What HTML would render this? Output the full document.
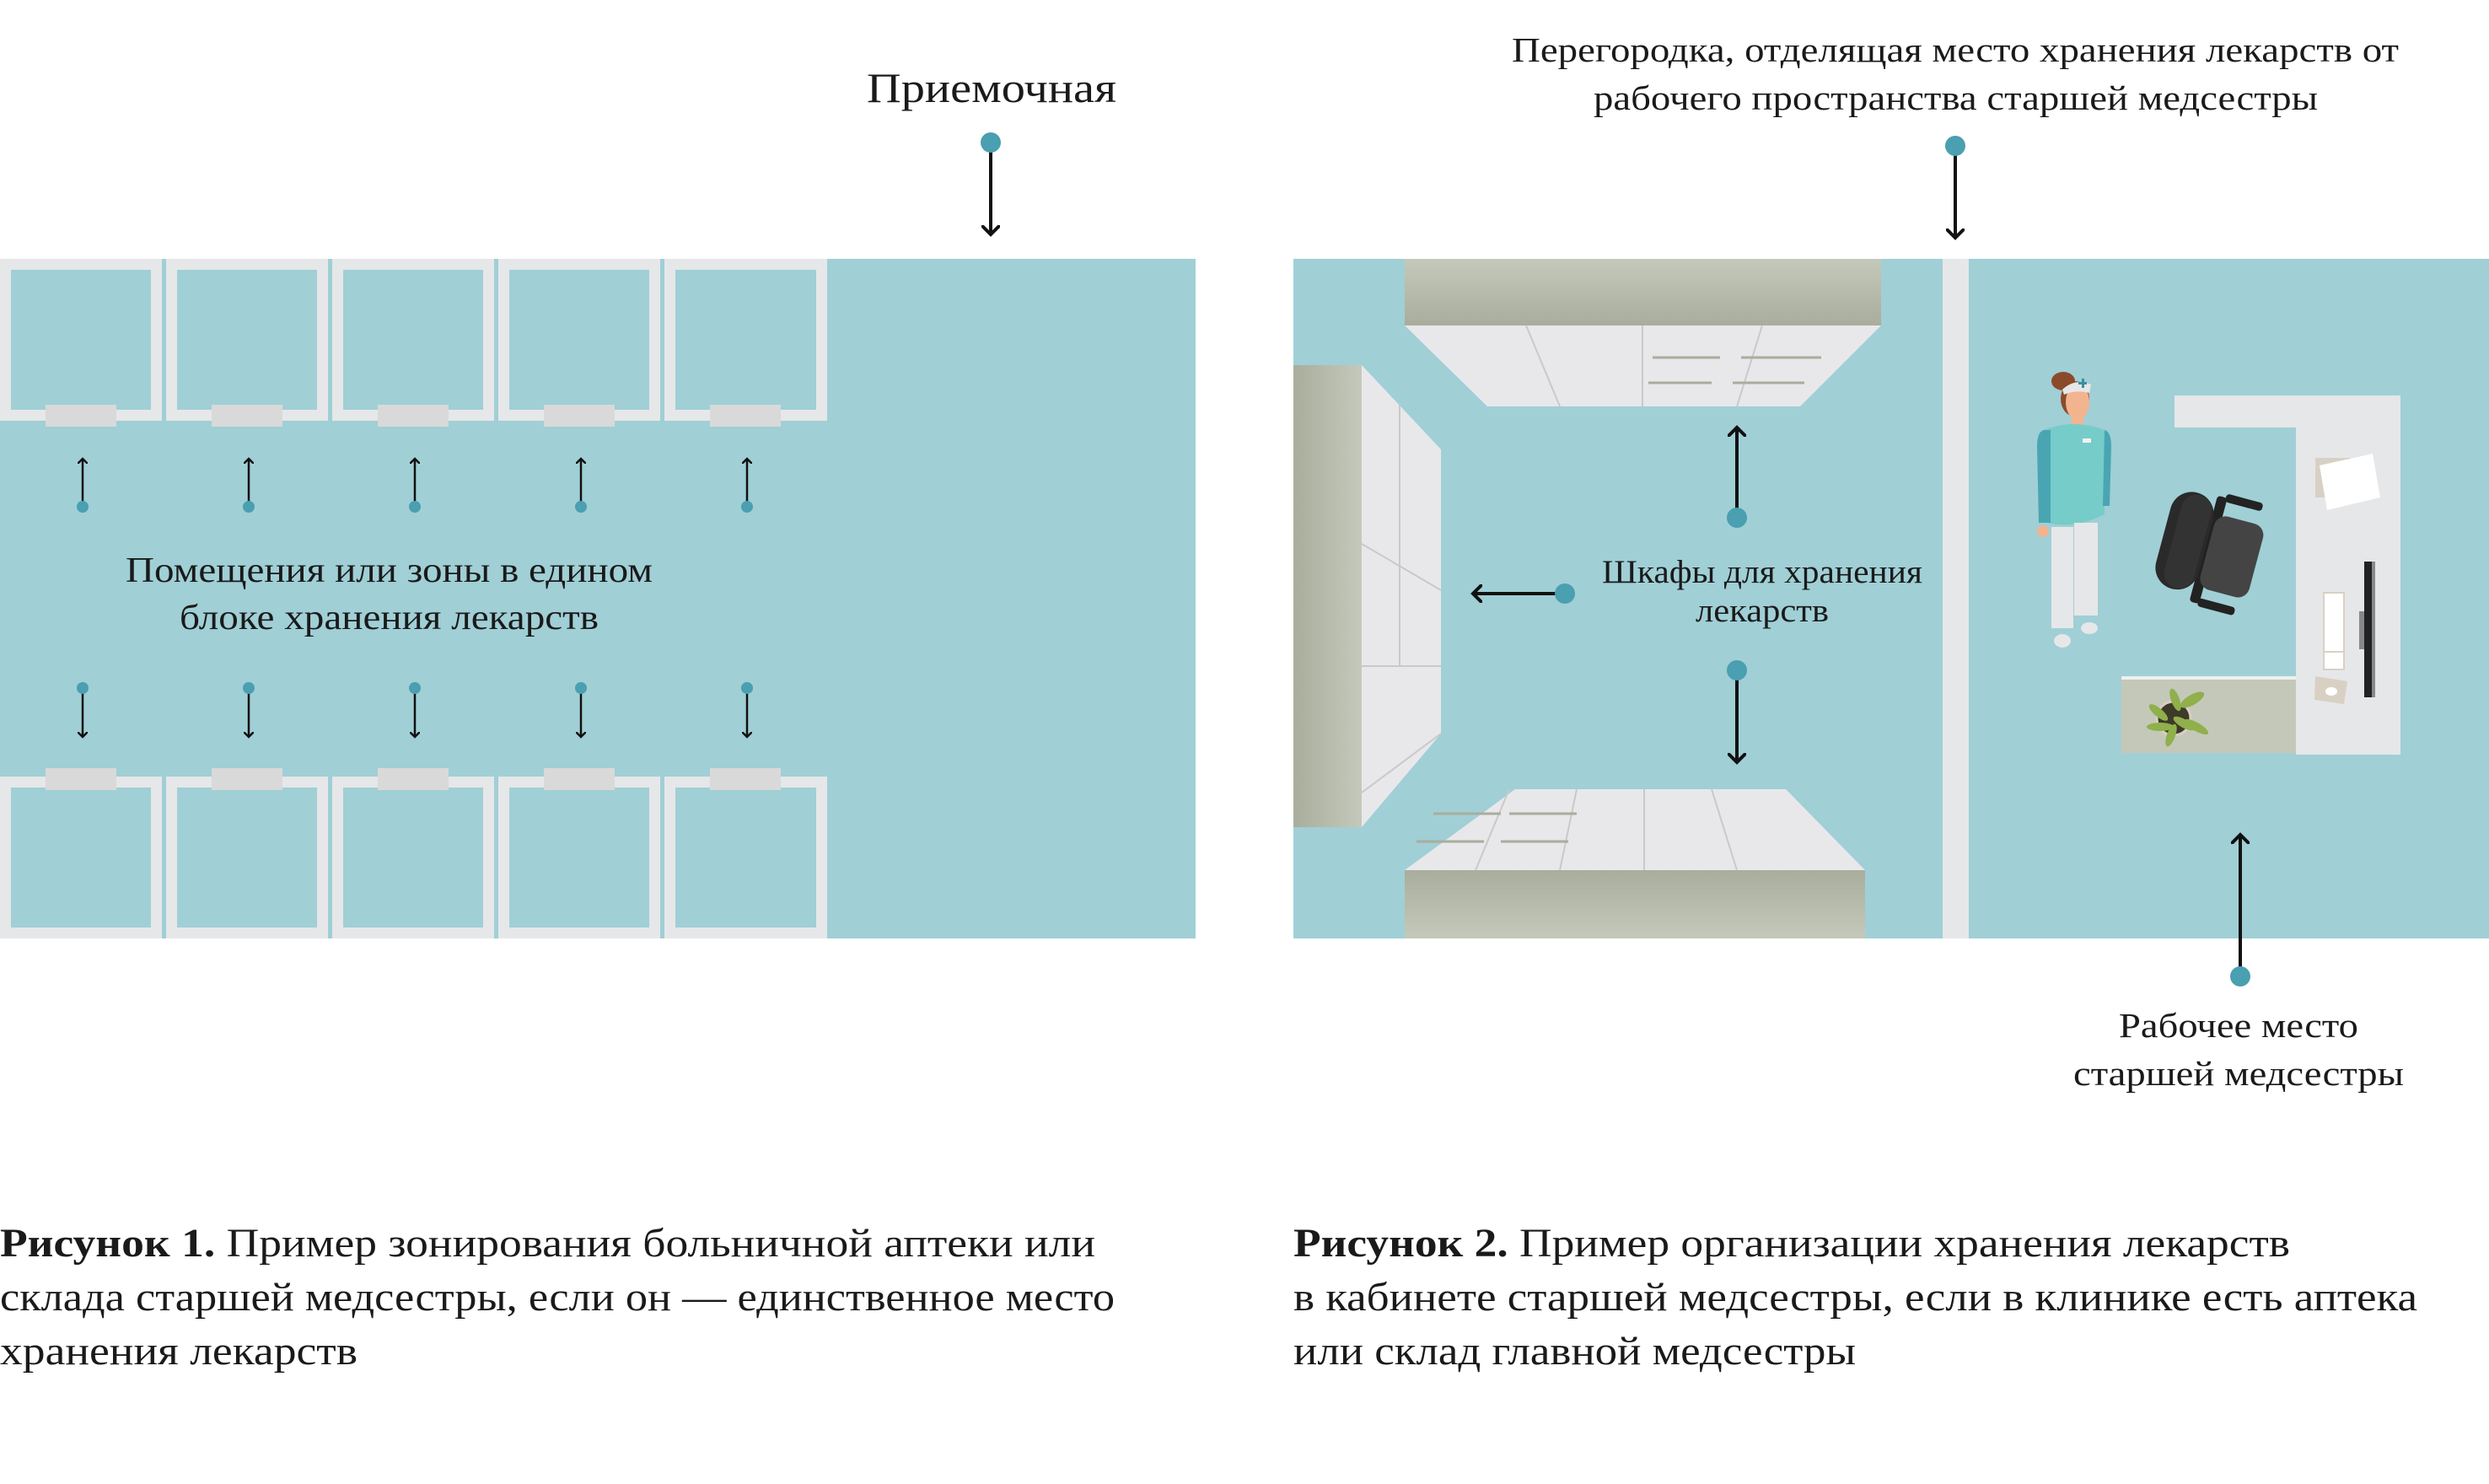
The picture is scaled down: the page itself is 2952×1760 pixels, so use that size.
<!DOCTYPE html>
<html><head><meta charset="utf-8"><style>
html,body{margin:0;padding:0;background:#fff;}
svg{display:block;}
text{font-family:"Liberation Serif",serif;fill:#1a1a1a;}
</style></head><body>
<svg width="2952" height="1760" viewBox="0 0 2952 1760" xmlns="http://www.w3.org/2000/svg">
<defs>
<marker id="ah" markerWidth="12" markerHeight="12" refX="6" refY="6" orient="auto" markerUnits="userSpaceOnUse"><path d="M0,0 L6,6 L0,12" fill="none" stroke="#111" stroke-width="2.5"/></marker>
<marker id="ab" markerWidth="22" markerHeight="22" refX="11" refY="11" orient="auto" markerUnits="userSpaceOnUse"><path d="M0,0 L11,11 L0,22" fill="none" stroke="#111" stroke-width="4"/></marker>
<linearGradient id="cab" x1="0" y1="0" x2="0" y2="1"><stop offset="0" stop-color="#a9ad9c"/><stop offset="1" stop-color="#c5c9bb"/></linearGradient>
<linearGradient id="cab2" x1="0" y1="0" x2="0" y2="1"><stop offset="0" stop-color="#c5c9bb"/><stop offset="1" stop-color="#a9ad9c"/></linearGradient>
<linearGradient id="cabL" x1="0" y1="0" x2="1" y2="0"><stop offset="0" stop-color="#a9ad9c"/><stop offset="1" stop-color="#c5c9bb"/></linearGradient>
</defs>

<!-- LEFT PANEL -->
<rect x="0" y="307" width="1418" height="806" fill="#a0cfd6"/>
<g fill="#e6e7e8">
<path d="M0,307h192v192h-192z M13,320v166h166v-166z" fill-rule="evenodd"/>
<path d="M197,307h192v192h-192z M210,320v166h166v-166z" fill-rule="evenodd"/>
<path d="M394,307h192v192h-192z M407,320v166h166v-166z" fill-rule="evenodd"/>
<path d="M591,307h192v192h-192z M604,320v166h166v-166z" fill-rule="evenodd"/>
<path d="M788,307h193v192h-193z M801,320v166h167v-166z" fill-rule="evenodd"/>
<path d="M0,921h192v192h-192z M13,934v166h166v-166z" fill-rule="evenodd"/>
<path d="M197,921h192v192h-192z M210,934v166h166v-166z" fill-rule="evenodd"/>
<path d="M394,921h192v192h-192z M407,934v166h166v-166z" fill-rule="evenodd"/>
<path d="M591,921h192v192h-192z M604,934v166h166v-166z" fill-rule="evenodd"/>
<path d="M788,921h193v192h-193z M801,934v166h167v-166z" fill-rule="evenodd"/>
</g>
<g fill="#d9d9d9">
<rect x="54" y="480" width="84" height="26"/><rect x="251" y="480" width="84" height="26"/><rect x="448" y="480" width="84" height="26"/><rect x="645" y="480" width="84" height="26"/><rect x="842" y="480" width="84" height="26"/>
<rect x="54" y="911" width="84" height="26"/><rect x="251" y="911" width="84" height="26"/><rect x="448" y="911" width="84" height="26"/><rect x="645" y="911" width="84" height="26"/><rect x="842" y="911" width="84" height="26"/>
</g>
<g stroke="#111" stroke-width="2.5">
<line x1="98" y1="600" x2="98" y2="544" marker-end="url(#ah)"/>
<line x1="295" y1="600" x2="295" y2="544" marker-end="url(#ah)"/>
<line x1="492" y1="600" x2="492" y2="544" marker-end="url(#ah)"/>
<line x1="689" y1="600" x2="689" y2="544" marker-end="url(#ah)"/>
<line x1="886" y1="600" x2="886" y2="544" marker-end="url(#ah)"/>
<line x1="98" y1="817" x2="98" y2="874" marker-end="url(#ah)"/>
<line x1="295" y1="817" x2="295" y2="874" marker-end="url(#ah)"/>
<line x1="492" y1="817" x2="492" y2="874" marker-end="url(#ah)"/>
<line x1="689" y1="817" x2="689" y2="874" marker-end="url(#ah)"/>
<line x1="886" y1="817" x2="886" y2="874" marker-end="url(#ah)"/>
</g>
<g fill="#4a9fb0">
<circle cx="98" cy="601" r="7"/><circle cx="295" cy="601" r="7"/><circle cx="492" cy="601" r="7"/><circle cx="689" cy="601" r="7"/><circle cx="886" cy="601" r="7"/>
<circle cx="98" cy="816" r="7"/><circle cx="295" cy="816" r="7"/><circle cx="492" cy="816" r="7"/><circle cx="689" cy="816" r="7"/><circle cx="886" cy="816" r="7"/>
</g>
<text x="149" y="690" font-size="42" textLength="625" lengthAdjust="spacingAndGlyphs">Помещения или зоны в едином</text>
<text x="213" y="746" font-size="42" textLength="497" lengthAdjust="spacingAndGlyphs">блоке хранения лекарств</text>

<text x="1028" y="121" font-size="50" textLength="296" lengthAdjust="spacingAndGlyphs">Приемочная</text>
<line x1="1175" y1="170" x2="1175" y2="278" stroke="#111" stroke-width="4" marker-end="url(#ab)"/>
<circle cx="1175" cy="169" r="12" fill="#4a9fb0"/>

<!-- RIGHT PANEL -->
<rect x="1534" y="307" width="1418" height="806" fill="#a0cfd6"/>
<rect x="2304" y="307" width="31" height="806" fill="#e6e7e8"/>
<rect x="1666" y="307" width="565" height="79" fill="url(#cab2)"/>
<polygon points="1666,386 2231,386 2135,482 1764,482" fill="#e8e8eb"/>
<g stroke="#c9c9c9" stroke-width="2"><line x1="1810" y1="386" x2="1850" y2="482"/><line x1="1948" y1="386" x2="1948" y2="482"/><line x1="2090" y1="386" x2="2060" y2="482"/></g>
<g stroke="#a9ad9c" stroke-width="3"><line x1="1960" y1="424" x2="2040" y2="424"/><line x1="2065" y1="424" x2="2160" y2="424"/><line x1="1955" y1="454" x2="2030" y2="454"/><line x1="2055" y1="454" x2="2140" y2="454"/></g>
<rect x="1534" y="433" width="81" height="548" fill="url(#cabL)"/>
<polygon points="1615,433 1709,533 1709,870 1615,981" fill="#e8e8eb"/>
<g stroke="#c9c9c9" stroke-width="2"><line x1="1615" y1="645" x2="1709" y2="700"/><line x1="1615" y1="790" x2="1709" y2="790"/><line x1="1615" y1="940" x2="1709" y2="870"/><line x1="1660" y1="480" x2="1660" y2="790"/></g>
<polygon points="1797,936 2118,936 2212,1032 1666,1032" fill="#e8e8eb"/>
<rect x="1666" y="1032" width="546" height="81" fill="url(#cab)"/>
<g stroke="#c9c9c9" stroke-width="2"><line x1="1750" y1="1032" x2="1790" y2="936"/><line x1="1850" y1="1032" x2="1870" y2="936"/><line x1="1950" y1="1032" x2="1950" y2="936"/><line x1="2060" y1="1032" x2="2030" y2="936"/></g>
<g stroke="#a9ad9c" stroke-width="3"><line x1="1680" y1="998" x2="1760" y2="998"/><line x1="1700" y1="965" x2="1780" y2="965"/><line x1="1780" y1="998" x2="1860" y2="998"/><line x1="1790" y1="965" x2="1870" y2="965"/></g>

<g stroke="#111" stroke-width="4">
<line x1="2060" y1="612" x2="2060" y2="507" marker-end="url(#ab)"/>
<line x1="1854" y1="704" x2="1747" y2="704" marker-end="url(#ab)"/>
<line x1="2060" y1="797" x2="2060" y2="904" marker-end="url(#ab)"/>
</g>
<g fill="#4a9fb0"><circle cx="2060" cy="614" r="12"/><circle cx="1856" cy="704" r="12"/><circle cx="2060" cy="795" r="12"/></g>
<text x="1900" y="691" font-size="39" textLength="380" lengthAdjust="spacingAndGlyphs">Шкафы для хранения</text>
<text x="2011" y="737" font-size="39" textLength="158" lengthAdjust="spacingAndGlyphs">лекарств</text>

<text x="1793" y="73" font-size="41" textLength="1052" lengthAdjust="spacingAndGlyphs">Перегородка, отделящая место хранения лекарств от</text>
<text x="1890" y="130" font-size="41" textLength="859" lengthAdjust="spacingAndGlyphs">рабочего пространства старшей медсестры</text>
<line x1="2319" y1="175" x2="2319" y2="282" stroke="#111" stroke-width="4" marker-end="url(#ab)"/>
<circle cx="2319" cy="173" r="12" fill="#4a9fb0"/>

<!-- desk -->
<rect x="2579" y="469" width="268" height="38" fill="#e6e7e8"/>
<rect x="2723" y="469" width="124" height="426" fill="#e6e7e8"/>
<rect x="2516" y="802" width="207" height="91" fill="#c4c8b9"/>
<rect x="2516" y="802" width="207" height="4" fill="#eef0f0"/>
<polygon points="2746,543 2788,543 2770,590 2746,590" fill="#d9d0c4"/>
<polygon points="2751,552 2814,538 2823,590 2760,605" fill="#ffffff"/>
<rect x="2756" y="703" width="24" height="91" fill="#fff" stroke="#d9d0c4" stroke-width="2"/>
<line x1="2756" y1="773" x2="2780" y2="773" stroke="#d9d0c4" stroke-width="2"/>
<polygon points="2746,802 2784,808 2780,835 2745,830" fill="#d9d0c4"/>
<ellipse cx="2765" cy="820" rx="7" ry="5" fill="#fff"/>
<rect x="2804" y="666" width="9" height="161" fill="#222"/>
<rect x="2813" y="666" width="4" height="161" fill="#888"/>
<rect x="2798" y="725" width="6" height="45" fill="#888"/>
<circle cx="2578" cy="852" r="20" fill="#3d3a2a" stroke="#d9d0c4" stroke-width="3"/>
<g fill="#8fb04a">
<ellipse cx="2580" cy="830" rx="5" ry="14" transform="rotate(-20 2580 830)"/>
<ellipse cx="2600" cy="830" rx="16" ry="6" transform="rotate(-30 2600 830)"/>
<ellipse cx="2560" cy="845" rx="14" ry="5" transform="rotate(40 2560 845)"/>
<ellipse cx="2562" cy="862" rx="16" ry="5"/>
<ellipse cx="2590" cy="858" rx="14" ry="5" transform="rotate(30 2590 858)"/>
<ellipse cx="2605" cy="862" rx="16" ry="5" transform="rotate(30 2605 862)"/>
<ellipse cx="2575" cy="872" rx="5" ry="14" transform="rotate(20 2575 872)"/>
</g>
<g transform="translate(2623,653) rotate(15)">
<rect x="-10" y="-65" width="12" height="130" rx="4" fill="#222"/>
<rect x="-60" y="-62" width="52" height="118" rx="26" fill="#2a2a2a"/>
<rect x="-48" y="-60" width="36" height="114" rx="18" fill="#333"/>
<rect x="-5" y="-44" width="60" height="90" rx="14" fill="#444"/>
<rect x="0" y="-70" width="45" height="10" rx="4" fill="#222"/>
<rect x="0" y="58" width="45" height="10" rx="4" fill="#222"/>
</g>
<g>
<ellipse cx="2447" cy="452" rx="14" ry="11" fill="#8b4a2b"/>
<ellipse cx="2461" cy="473" rx="17" ry="21" fill="#8b4a2b"/>
<ellipse cx="2464" cy="477" rx="14" ry="21" fill="#f2b48f"/>
<path d="M2446,462 q15,-14 34,-6 l-2,10 q-16,-4 -30,2z" fill="#e6e7e8"/>
<rect x="2465" y="453" width="10" height="3" fill="#3a8fa0"/><rect x="2469" y="449" width="3" height="11" fill="#3a8fa0"/>
<rect x="2457" y="495" width="14" height="12" fill="#f2b48f"/>
<path d="M2424,510 q36,-14 72,0 l0,100 q-36,18 -68,10 z" fill="#76ccc9"/>
<path d="M2424,510 q-8,2 -8,20 l2,90 14,0 0,-110z" fill="#4aa5b3"/>
<path d="M2496,510 q8,2 8,20 l-2,70 -8,0z" fill="#4aa5b3"/>
<rect x="2470" y="520" width="10" height="5" fill="#f2f2f2"/>
<rect x="2433" y="625" width="26" height="120" fill="#e6e7e8"/>
<rect x="2460" y="620" width="28" height="110" fill="#e6e7e8"/>
<ellipse cx="2446" cy="760" rx="10" ry="8" fill="#e6e7e8"/>
<ellipse cx="2478" cy="745" rx="10" ry="7" fill="#e6e7e8"/>
<circle cx="2423" cy="630" r="7" fill="#f2b48f"/>
</g>

<line x1="2657" y1="1156" x2="2657" y2="990" stroke="#111" stroke-width="4" marker-end="url(#ab)"/>
<circle cx="2657" cy="1158" r="12" fill="#4a9fb0"/>
<text x="2513" y="1230" font-size="41" textLength="284" lengthAdjust="spacingAndGlyphs">Рабочее место</text>
<text x="2459" y="1287" font-size="41" textLength="392" lengthAdjust="spacingAndGlyphs">старшей медсестры</text>

<g font-size="48">
<text x="0" y="1490" textLength="1299" lengthAdjust="spacingAndGlyphs"><tspan font-weight="bold">Рисунок 1.</tspan> Пример зонирования больничной аптеки или</text>
<text x="0" y="1554" textLength="1322" lengthAdjust="spacingAndGlyphs">склада старшей медсестры, если он — единственное место</text>
<text x="0" y="1618" textLength="424" lengthAdjust="spacingAndGlyphs">хранения лекарств</text>
<text x="1534" y="1490" textLength="1182" lengthAdjust="spacingAndGlyphs"><tspan font-weight="bold">Рисунок 2.</tspan> Пример организации хранения лекарств</text>
<text x="1534" y="1554" textLength="1333" lengthAdjust="spacingAndGlyphs">в кабинете старшей медсестры, если в клинике есть аптека</text>
<text x="1534" y="1618" textLength="667" lengthAdjust="spacingAndGlyphs">или склад главной медсестры</text>
</g>
</svg>
</body></html>
